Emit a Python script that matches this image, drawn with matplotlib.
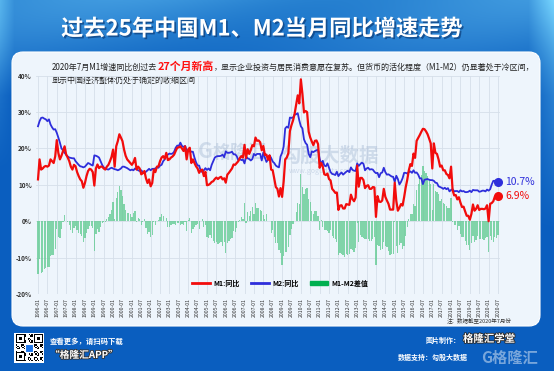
import numpy as np
import matplotlib
matplotlib.use('Agg')
import matplotlib.pyplot as plt
from matplotlib.patches import FancyBboxPatch, Rectangle, Patch
from matplotlib.lines import Line2D
import matplotlib.patheffects as pe

plt.rcParams['font.family'] = ['Noto Sans CJK SC', 'DejaVu Sans']

# ---------------- data (YoY %, monthly, 1996-01 .. 2020-07) ----------------
m1_1996 = [11.5, 17.0, 14.2, 14.5, 15.0, 15.2, 15.0, 15.3, 17.0, 16.5, 16.0, 17.8]
m1_1997 = [22.3, 18.8, 17.0, 18.0, 19.3, 20.6, 18.3, 17.5, 16.5, 15.0, 14.2, 15.5]
m1_1998 = [15.1, 13.5, 12.4, 11.5, 11.0, 9.2, 10.5, 12.4, 13.8, 14.4, 14.2, 13.5]
m1_1999 = [9.8, 14.5, 15.6, 14.6, 15.0, 15.0, 14.5, 14.2, 15.0, 15.5, 16.5, 17.7]
m1_2000 = [19.7, 15.0, 20.6, 22.0, 23.9, 23.0, 22.0, 19.7, 18.0, 17.0, 16.5, 16.0]
m1_2001 = [15.5, 16.2, 17.4, 14.2, 15.0, 14.5, 12.9, 13.2, 13.8, 11.8, 10.5, 11.5]
m1_2002 = [9.6, 10.5, 14.2, 13.5, 15.0, 15.1, 16.5, 17.5, 17.9, 17.2, 18.8, 16.8]
m1_2003 = [17.0, 17.5, 17.8, 18.3, 19.3, 20.2, 20.3, 20.6, 20.0, 19.3, 20.6, 17.0]
m1_2004 = [19.7, 20.2, 16.0, 17.0, 16.0, 15.1, 14.5, 13.3, 14.0, 14.2, 12.4, 13.6]
m1_2005 = [9.9, 10.0, 10.3, 10.8, 11.0, 11.6, 12.0, 11.6, 12.0, 12.2, 11.5, 11.8]
m1_2006 = [10.6, 12.8, 13.3, 13.9, 14.5, 15.6, 15.5, 16.0, 16.5, 17.4, 17.9, 17.5]
m1_2007 = [21.0, 17.4, 19.8, 18.5, 19.6, 20.9, 20.6, 23.0, 22.1, 22.2, 21.7, 19.5]
m1_2008 = [20.7, 18.2, 18.3, 16.9, 18.1, 14.2, 14.0, 11.7, 9.4, 8.9, 6.8, 9.1]
m1_2009 = [6.7, 10.9, 17.0, 17.5, 18.7, 24.8, 26.4, 27.7, 29.5, 32.0, 34.6, 32.4]
m1_2010 = [39.0, 35.0, 29.9, 30.3, 30.0, 24.6, 23.0, 21.9, 20.9, 22.1, 22.2, 21.2]
m1_2011 = [14.7, 16.0, 15.0, 12.9, 12.7, 13.1, 11.6, 11.2, 8.9, 8.4, 7.8, 7.9]
m1_2012 = [3.1, 4.3, 4.4, 3.5, 3.5, 4.7, 4.6, 4.5, 7.3, 6.1, 5.5, 6.5]
m1_2013 = [15.3, 9.5, 11.9, 11.9, 11.3, 9.1, 9.7, 9.9, 8.9, 8.9, 9.4, 9.3]
m1_2014 = [1.2, 6.9, 5.4, 5.3, 5.7, 8.9, 6.7, 5.7, 4.8, 3.2, 3.2, 3.2]
m1_2015 = [10.6, 5.6, 2.9, 3.7, 4.7, 4.3, 6.6, 9.3, 11.4, 14.0, 15.7, 15.2]
m1_2016 = [18.6, 17.4, 22.1, 22.9, 23.7, 24.6, 25.4, 25.3, 24.7, 23.9, 22.7, 21.4]
m1_2017 = [14.5, 21.4, 18.8, 18.5, 17.0, 15.0, 15.3, 14.0, 14.0, 13.0, 12.7, 11.8]
m1_2018 = [15.0, 8.5, 7.1, 7.2, 6.0, 6.6, 5.1, 3.9, 4.0, 2.7, 1.5, 1.5]
m1_2019 = [0.4, 2.0, 4.6, 2.9, 3.4, 4.4, 3.1, 3.4, 3.4, 3.3, 3.5, 4.4]
m1_2020 = [0.0, 4.8, 5.0, 5.5, 6.8, 6.5, 6.9]

m2_1996 = [26.1, 27.5, 28.4, 28.5, 28.2, 28.0, 27.5, 28.0, 26.6, 25.8, 25.2, 25.3]
m2_1997 = [24.3, 23.0, 21.6, 20.0, 19.5, 18.8, 18.3, 17.8, 17.5, 17.4, 17.3, 17.3]
m2_1998 = [16.5, 16.0, 15.5, 15.1, 15.0, 14.8, 15.0, 15.5, 16.0, 15.8, 15.5, 15.3]
m2_1999 = [18.1, 18.0, 17.8, 17.5, 16.5, 15.5, 14.8, 14.5, 14.3, 14.2, 14.5, 14.7]
m2_2000 = [14.5, 14.3, 14.2, 14.0, 14.2, 14.5, 15.0, 15.0, 14.8, 14.6, 14.3, 14.0]
m2_2001 = [14.2, 14.0, 14.5, 14.3, 14.0, 13.8, 14.0, 13.5, 13.3, 13.6, 14.0, 14.4]
m2_2002 = [14.0, 14.4, 14.4, 14.5, 14.8, 14.7, 15.3, 15.5, 16.5, 17.0, 18.0, 18.3]
m2_2003 = [18.6, 18.5, 18.6, 19.1, 20.2, 20.8, 20.7, 21.6, 20.7, 20.4, 20.7, 19.6]
m2_2004 = [19.3, 19.4, 19.1, 19.1, 17.5, 16.2, 15.3, 15.3, 13.9, 13.5, 14.0, 14.6]
m2_2005 = [14.1, 14.5, 14.0, 15.5, 16.5, 17.5, 17.8, 17.9, 17.9, 18.0, 18.3, 17.6]
m2_2006 = [19.2, 18.8, 18.8, 18.9, 19.1, 18.4, 18.4, 17.9, 16.8, 17.1, 16.8, 16.9]
m2_2007 = [15.9, 17.8, 17.3, 17.1, 16.7, 17.1, 18.5, 18.1, 18.5, 18.5, 18.5, 16.7]
m2_2008 = [18.9, 17.5, 16.3, 16.9, 18.1, 17.4, 16.4, 16.0, 15.3, 15.0, 14.8, 17.8]
m2_2009 = [18.8, 20.5, 25.5, 26.0, 25.7, 28.5, 28.4, 28.5, 29.3, 29.4, 29.7, 27.7]
m2_2010 = [26.1, 25.5, 22.5, 21.5, 21.0, 18.5, 17.6, 19.2, 19.0, 19.3, 19.5, 19.7]
m2_2011 = [17.2, 15.7, 16.6, 15.3, 15.1, 15.9, 14.7, 13.5, 13.0, 12.9, 12.7, 13.6]
m2_2012 = [12.4, 13.0, 13.4, 12.8, 13.2, 13.6, 13.9, 13.5, 14.8, 14.1, 13.9, 13.8]
m2_2013 = [15.9, 15.2, 15.7, 16.1, 15.8, 14.0, 14.5, 14.7, 14.2, 14.3, 14.2, 13.6]
m2_2014 = [13.2, 13.3, 12.1, 13.2, 13.4, 14.7, 13.5, 12.8, 12.9, 12.6, 12.3, 12.2]
m2_2015 = [10.8, 12.5, 11.6, 10.1, 10.8, 11.8, 13.3, 13.3, 13.1, 13.5, 13.7, 13.3]
m2_2016 = [14.0, 13.3, 13.4, 12.8, 11.8, 11.8, 10.2, 11.4, 11.5, 11.6, 11.4, 11.3]
m2_2017 = [11.3, 11.1, 10.6, 10.5, 9.6, 9.4, 9.2, 8.9, 9.2, 8.8, 9.1, 8.2]
m2_2018 = [8.6, 8.8, 8.2, 8.3, 8.3, 8.0, 8.5, 8.2, 8.3, 8.0, 8.0, 8.1]
m2_2019 = [8.4, 8.0, 8.6, 8.5, 8.5, 8.5, 8.1, 8.2, 8.4, 8.4, 8.2, 8.7]
m2_2020 = [8.4, 8.8, 10.1, 11.1, 11.1, 11.1, 10.7]

years = list(range(1996, 2021))
m1 = np.array(sum([globals()[f'm1_{y}'] for y in years], []))
m2 = np.array(sum([globals()[f'm2_{y}'] for y in years], []))
diff = m1 - m2
months = [f'{y}-{m:02d}' for y in years for m in range(1, 13)][:len(m1)]
idx = np.arange(len(m1))
tick_idx = idx[::6]
tick_labels = [months[i] for i in tick_idx]
y_ticks = [-20, -10, 0, 10, 20, 30, 40]

title = '过去25年中国M1、M2当月同比增速走势'
note_a = '2020年7月M1增速同比创过去'
note_b = '27个月新高'
note_c = '，显示企业投资与居民消费意愿在复苏。但货币的活化程度（M1-M2）仍显著处于冷区间，'
note_d = '显示中国经济整体仍处于确定的收缩区间'

RED = '#F20C0C'
BLUE = '#2E2EDB'
GREEN = '#5CC98E'

W, H = 554, 371
fig = plt.figure(figsize=(W / 100, H / 100), dpi=100)

def fx(px):
    return px / W

def fy(py):
    return 1 - py / H

# ---------------- background ----------------
bg = fig.add_axes([0, 0, 1, 1])
bg.set_xlim(0, W)
bg.set_ylim(H, 0)
bg.axis('off')
yy, xx = np.mgrid[0:H, 0:W].astype(float)
dark = np.array([10, 94, 191]) / 255
mid = np.array([38, 128, 208]) / 255
light = np.array([80, 170, 232]) / 255
wt = np.clip(1 - yy / 95, 0, 1) ** 0.9
band = 0.5 + 0.5 * np.sin((xx + 2.4 * yy) / 70)
wr = np.clip((xx - 528) / 26, 0, 1) * np.clip(1 - yy / 230, 0, 1)
wl = np.clip((14 - xx) / 14, 0, 1) * np.clip(1 - yy / 170, 0, 1)
img = (dark[None, None, :] * (1 - wt)[..., None] + mid[None, None, :] * wt[..., None])
img = img + (light - mid)[None, None, :] * (wt * band * 0.6)[..., None]
img = img + (light - dark)[None, None, :] * (0.8 * wr + 0.5 * wl)[..., None]
img = np.clip(img, 0, 1)
bg.imshow(img, extent=(0, W, H, 0), aspect='auto', zorder=0)

panel = FancyBboxPatch((12, 52), 528, 274, boxstyle='round,pad=0,rounding_size=11',
                       fc='#EEF5FC', ec='#FFFFFF', lw=0.8, zorder=1)
bg.add_patch(panel)

bg.text(262, 29, title, color='white', fontsize=16, fontweight='bold', ha='center', va='center',
        zorder=3, path_effects=[pe.withSimplePatchShadow(offset=(1.2, -1.2), shadow_rgbFace='#0B3D7A', alpha=0.7)])

# ---------------- chart ----------------
px_per_m = 460 / 294
ax = fig.add_axes([fx(36), fy(294), 464 / W, (294 - 75.7) / H])
ax.set_facecolor('none')
ax.set_xlim(-2 / px_per_m, 294 + 2 / px_per_m)
ax.set_ylim(-20, 40)
ax.set_axisbelow(True)
ax.set_yticks(y_ticks)
ax.set_yticklabels([f'{v}%' for v in y_ticks], fontsize=4.6, fontweight='bold', color='#333333')
ax.set_xticks(tick_idx)
ax.set_xticklabels(tick_labels, rotation=90, fontsize=3.7, color='#333333')
ax.tick_params(length=0, pad=3)
ax.grid(True, color='#D6DFE9', lw=0.6)
for s in ax.spines.values():
    s.set_visible(False)

# watermarks
for txt, x, y, fs in [('G', 205, 151, 15), ('格隆汇', 240, 152, 13), ('勾股大数据', 330, 156, 14)]:
    ax.text(x, y, txt, transform=bg.transData, fontsize=fs, color='#A9BCD6', alpha=0.45,
            ha='center', va='center', fontweight='bold', zorder=1, clip_on=False)
ax.text(322, 171, 'www.gogudata.com', transform=bg.transData, fontsize=5, color='#A9BCD6', alpha=0.5,
        ha='center', va='center', zorder=1, clip_on=False)

ax.bar(idx, diff, width=0.8, color=GREEN, alpha=0.75, lw=0, zorder=2)
ax.plot(idx, m2, color=BLUE, lw=1.3, zorder=3, solid_joinstyle='round')
ax.plot(idx, m1, color=RED, lw=1.6, zorder=4, solid_joinstyle='round')

ax.plot(idx[-1], m2[-1], 'o', color=BLUE, ms=5.5, zorder=5, clip_on=False)
ax.plot(idx[-1], m1[-1], 'o', color=RED, ms=5.5, zorder=5, clip_on=False)
ax.annotate(f'{m2[-1]:.1f}%', (idx[-1], m2[-1]), xytext=(5, 0), textcoords='offset points',
            color=BLUE, fontsize=7.5, va='center', ha='left', annotation_clip=False)
ax.annotate(f'{m1[-1]:.1f}%', (idx[-1], m1[-1]), xytext=(5, 0), textcoords='offset points',
            color=RED, fontsize=7.5, va='center', ha='left', annotation_clip=False)

handles = [Line2D([], [], color=RED, lw=2), Line2D([], [], color=BLUE, lw=2), Patch(color='#00B050')]
fig.legend(handles, ['M1:同比', 'M2:同比', 'M1-M2差值'], loc='center', bbox_to_anchor=(fx(280), fy(283)),
           ncol=3, frameon=False, prop={'size': 5, 'weight': 'bold'}, handlelength=2.6, handleheight=0.6,
           columnspacing=1.6, handletextpad=0.5)

# annotation lines
renderer = fig.canvas.get_renderer()
t1 = bg.text(52, 67, note_a, fontsize=5.8, color='#222222', va='center', ha='left', zorder=3)
bb = t1.get_window_extent(renderer)
x_next = bb.x1 / fig.dpi * 100
t2 = bg.text(x_next, 66.5, note_b, fontsize=7.8, color='#FF1010', fontweight='bold', va='center', ha='left', zorder=3)
bb = t2.get_window_extent(renderer)
x_next = bb.x1 / fig.dpi * 100
bg.text(x_next, 67, note_c, fontsize=5.8, color='#222222', va='center', ha='left', zorder=3)
bg.text(52, 80, note_d, fontsize=5.8, color='#222222', va='center', ha='left', zorder=3)

bg.text(512, 320, '注：数据截至2020年7月份', fontsize=4, color='#333333', style='italic', ha='right', va='center', zorder=3)

# ---------------- footer ----------------
bg.add_patch(Rectangle((14, 333), 30, 30, fc='white', ec='none', zorder=2))
qi, qj = np.mgrid[0:21, 0:21]
qr = (((qi * 7 + qj * 13 + qi * qj) % 5) < 2).astype(float)
for (a, b) in [(0, 0), (0, 14), (14, 0)]:
    qr[a:a + 7, b:b + 7] = 1
    qr[a + 1:a + 6, b + 1:b + 6] = 0
    qr[a + 2:a + 5, b + 2:b + 5] = 1
bg.imshow(1 - qr, cmap='gray', vmin=0, vmax=1, extent=(15.5, 42.5, 361.5, 334.5), zorder=3, interpolation='nearest')
bg.add_patch(Rectangle((25, 344), 8, 8, fc='#1A73E8', ec='white', lw=0.8, zorder=4))

bg.text(50, 341, '查看更多，请扫码下载', fontsize=5.3, color='white', style='italic', fontweight='bold', va='center', zorder=3)
bg.text(50, 355, '“格隆汇APP”', fontsize=7, color='white', fontweight='bold', style='italic', va='center', zorder=3,
        path_effects=[pe.withStroke(linewidth=1.2, foreground='#333333')])
bg.text(510, 358, 'G格隆汇', fontsize=11, color='white', alpha=0.45, fontweight='bold', ha='center', va='center', zorder=3)
bg.text(461, 340, '图片制作：', fontsize=5, color='white', fontweight='bold', ha='right', va='center', zorder=4)
bg.text(463, 339, '格隆汇学堂', fontsize=7.5, color='white', fontweight='bold', ha='left', va='center', zorder=4,
        path_effects=[pe.withStroke(linewidth=1.2, foreground='#2A2A2A')])
bg.text(398, 357, '数据支持：勾股大数据', fontsize=5, color='white', fontweight='bold', ha='left', va='center', zorder=4)

fig.savefig('out.png', dpi=100)
